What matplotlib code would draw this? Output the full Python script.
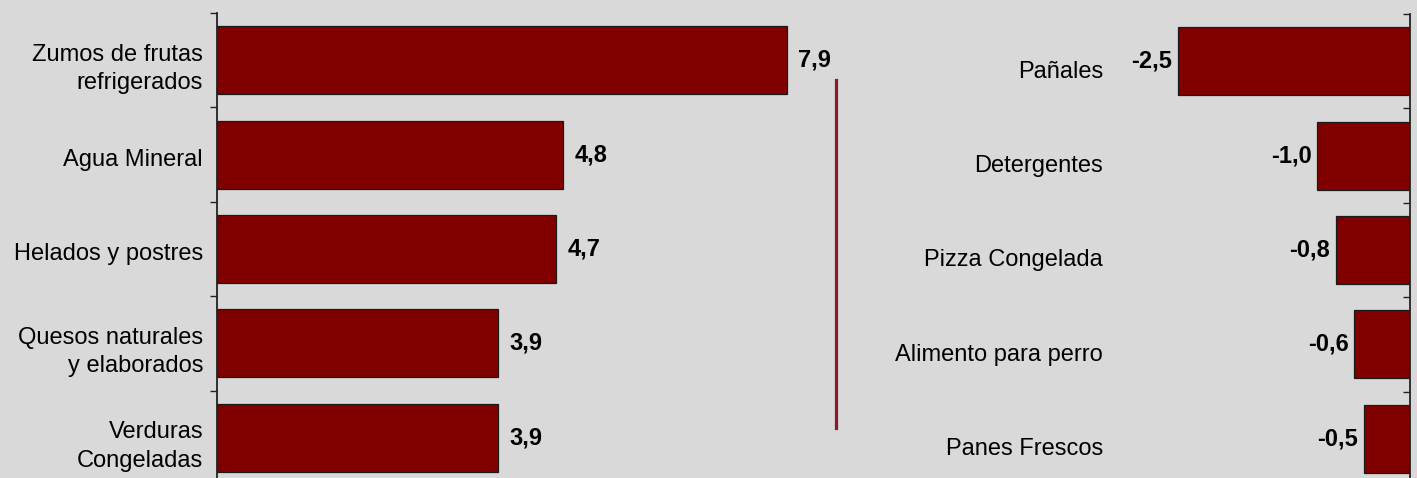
import numpy as np
import matplotlib.pyplot as plt
from matplotlib.lines import Line2D

plt.rcParams['font.family'] = ['Liberation Sans', 'DejaVu Sans']

# data
left_labels = ["Zumos de frutas\nrefrigerados", "Agua Mineral", "Helados y postres",
               "Quesos naturales\ny elaborados", "Verduras\nCongeladas"]
left_values = [7.9, 4.8, 4.7, 3.9, 3.9]
right_labels = ["Pañales", "Detergentes", "Pizza Congelada",
                "Alimento para perro", "Panes Frescos"]
right_values = [-2.5, -1.0, -0.8, -0.6, -0.5]

bg = '#d9d9d9'
bar_col = '#800000'
fs = 17

W, H = 1417, 478
fig = plt.figure(figsize=(W / 100, H / 100), dpi=100, facecolor=bg)

def px_axes(x0, x1, y0, y1):
    # pixel box (top-left origin) -> figure fraction
    return fig.add_axes([x0 / W, (H - y1) / H, (x1 - x0) / W, (y1 - y0) / H])

def style(ax):
    ax.set_facecolor(bg)
    ax.patch.set_alpha(0)
    for s in ax.spines.values():
        s.set_visible(False)
    ax.set_xticks([])
    ax.set_ylim(4.5, -0.5)
    ax.set_yticks(np.arange(-0.5, 5.0, 1.0), minor=True)
    ax.tick_params(axis='y', which='minor', length=5, width=1.0, color='#222222')

# left panel
ax1 = px_axes(217, 217 + 72.15 * 10, 13, 485)
style(ax1)
ax1.set_xlim(0, 10)
y = np.arange(len(left_values))
ax1.barh(y, left_values, height=0.72, color=bar_col, edgecolor='#1a1a1a', linewidth=0.9)
ax1.spines['left'].set_visible(True)
ax1.spines['left'].set_linewidth(1.3)
ax1.spines['left'].set_color('#222222')
ax1.set_yticks(y + 0.03)
ax1.set_yticklabels(left_labels, fontsize=fs, ha='right', linespacing=1.38)
ax1.tick_params(axis='y', which='major', length=0, pad=10)
for yi, v in zip(y, left_values):
    ax1.annotate(f"{v:.1f}".replace('.', ','), (v, yi), xytext=(8, 0),
                 textcoords='offset points', ha='left', va='center',
                 fontsize=fs, fontweight='bold')

# right panel
ax2 = px_axes(1410 - 93 * 4, 1410, 14, 486)
style(ax2)
ax2.set_xlim(-4, 0)
ax2.barh(y, right_values, height=0.72, color=bar_col, edgecolor='#1a1a1a', linewidth=0.9)
ax2.spines['right'].set_visible(True)
ax2.spines['right'].set_linewidth(1.3)
ax2.spines['right'].set_color('#222222')
ax2.yaxis.tick_right()
ax2.set_yticks([])
ax2.tick_params(axis='y', which='minor', direction='in', right=True, left=False)
for yi, v, lab in zip(y, right_values, right_labels):
    ax2.annotate(f"{v:.1f}".replace('.', ','), (v, yi), xytext=(-4, 0),
                 textcoords='offset points', ha='right', va='center',
                 fontsize=fs, fontweight='bold')
    ax2.text(-3.30, yi + 0.11, lab, ha='right', va='center', fontsize=fs)

# divider line
fig.add_artist(Line2D([836 / W, 836 / W], [(H - 80) / H, (H - 428) / H],
                      color='#8b1a2a', linewidth=2.3))

fig.savefig('out.png', dpi=100, facecolor=bg)
